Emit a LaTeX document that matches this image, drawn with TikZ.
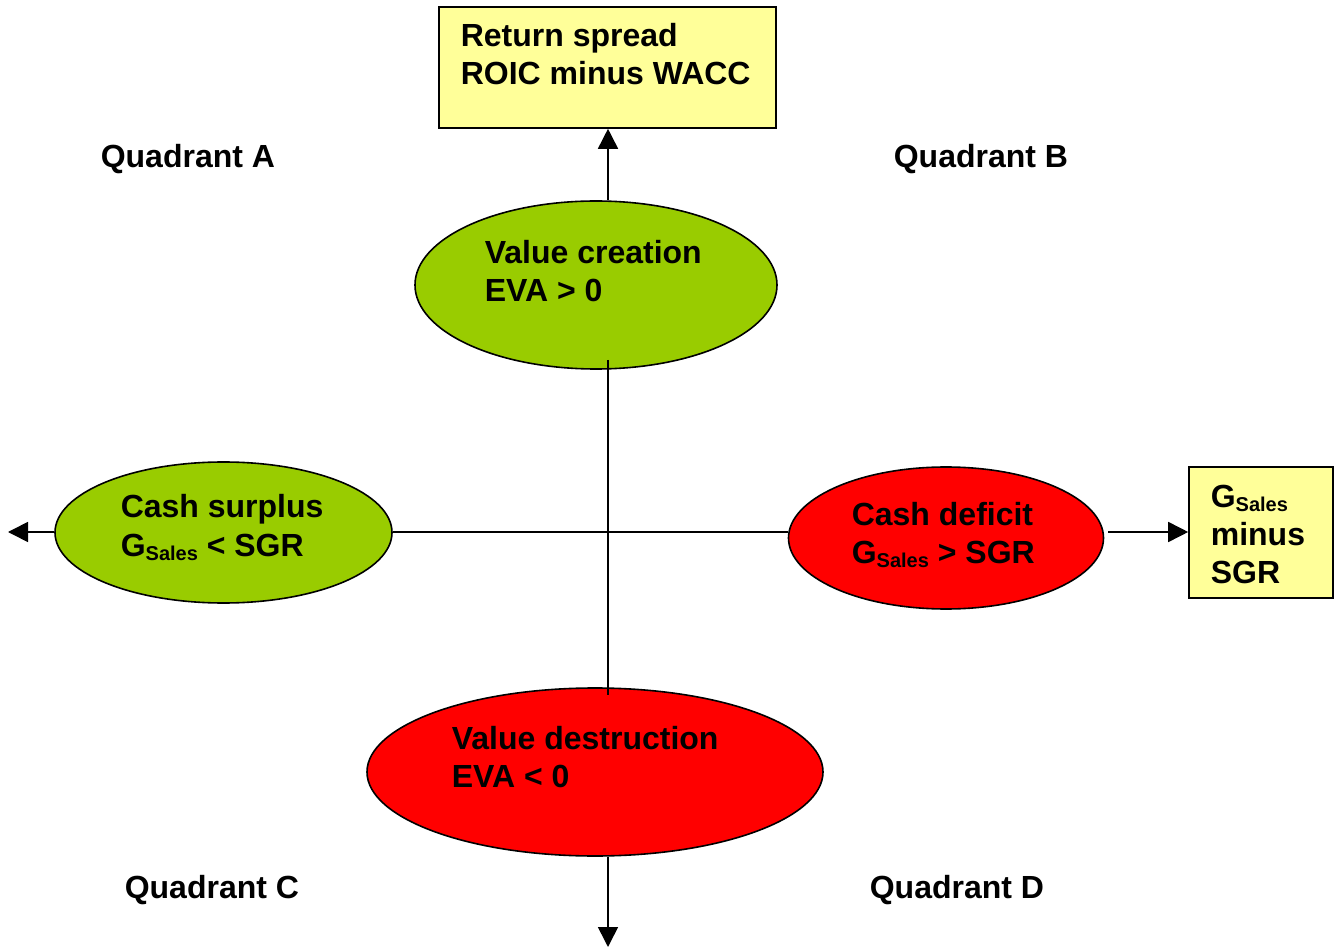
\documentclass[tikz,border=0pt]{standalone}
\usepackage{fontspec}
\setmainfont{Liberation Sans}
\usetikzlibrary{shapes.geometric,arrows.meta}
\definecolor{boxyellow}{HTML}{FFFF99}
\definecolor{lgreen}{HTML}{99CC00}
\definecolor{vred}{HTML}{FF0000}
\newcommand{\gsales}{G\raisebox{-3.5pt}{\fontsize{15}{15}\selectfont Sales}}
\begin{document}
\begin{tikzpicture}[x=0.75pt,y=-0.75pt,
  line width=1.2pt,
  every node/.style={font=\fontsize{24}{28.5}\selectfont\bfseries},
  oval/.style={ellipse,draw=black,line width=1.2pt,inner sep=0pt},
  infobox/.style={rectangle,draw=black,fill=boxyellow,line width=1.2pt,inner sep=0pt},
  lbl/.style={anchor=base west,align=left,inner sep=0pt},
  conn/.style={line width=1.2pt},
  arr/.style={conn,-{Triangle[length=15pt,width=15pt]}}]
\useasboundingbox (0,0) rectangle (1339,948);
% shapes
\node[infobox,minimum width=252.75pt,minimum height=90.75pt] (roic) at (607.5,67.5) {};
\node[infobox,minimum width=108pt,minimum height=98.25pt] (gbox) at (1261,532.5) {};
\node[oval,fill=lgreen,minimum width=271.5pt,minimum height=126pt] (vc) at (596,285) {};
\node[oval,fill=lgreen,minimum width=252.75pt,minimum height=105.75pt] (cs) at (223.5,532.5) {};
\node[oval,fill=vred,minimum width=236.25pt,minimum height=106.5pt] (cd) at (946,538) {};
\node[oval,fill=vred,minimum width=342pt,minimum height=126pt] (vd) at (595,772) {};
% axis coordinates
\coordinate (ax) at (608,532);
\coordinate (leftend) at (8,532);
\coordinate (bottomend) at (608,947);
% connectors
\draw[arr] (ax |- vc.north) -- (ax |- roic.south);
\draw[conn] ([yshift=7.5pt]ax |- vc.south) -- ([yshift=-6pt]ax |- vd.north);
\draw[conn] (cs.east |- ax) -- (cd.west |- ax);
\draw[arr] (cs.west |- ax) -- (leftend);
\draw[arr] ([xshift=3pt]cd.east |- ax) -- (gbox.west |- ax);
\draw[arr] (ax |- vd.south) -- (bottomend);
% texts (anchor at baseline of last line)
\node[lbl] (troic) at (460,85) {Return spread\\ROIC minus WACC};
\node[lbl] (tvc) at (484,302) {Value creation\\EVA > 0};
\node[lbl] (tcs) at (120,556) {Cash surplus\\\gsales{} < SGR};
\node[lbl] (tcd) at (851,563) {Cash deficit\\\gsales{} > SGR};
\node[lbl] (tg) at (1210,583) {\gsales\\minus\\SGR};
\node[lbl] (tvd) at (451,787) {Value destruction\\EVA < 0};
\node[lbl] (qa) at (100,168) {Quadrant A};
\node[lbl] (qb) at (893,168) {Quadrant B};
\node[lbl] (qc) at (124,898) {Quadrant C};
\node[lbl] (qd) at (869,898) {Quadrant D};
\end{tikzpicture}
\end{document}
